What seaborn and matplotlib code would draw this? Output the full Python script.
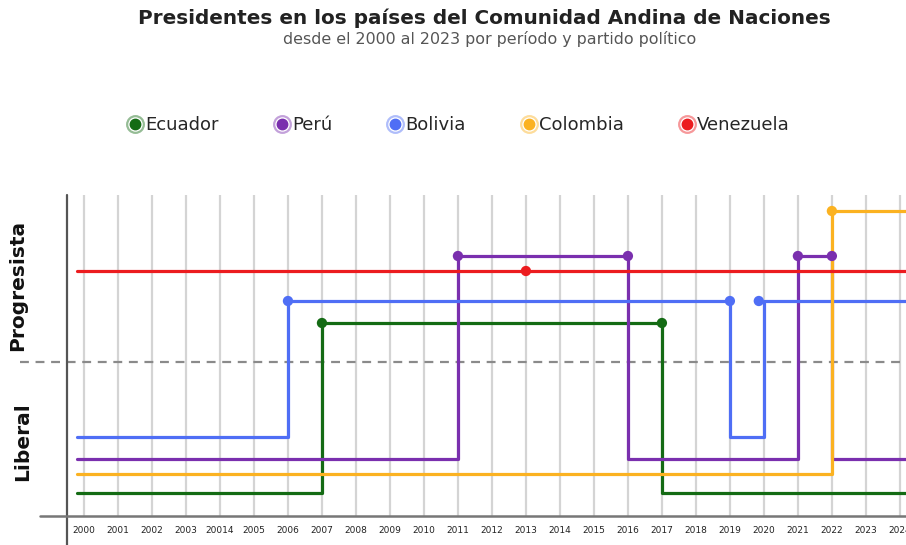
import matplotlib
matplotlib.use("Agg")
import matplotlib.pyplot as plt
from matplotlib.lines import Line2D
from matplotlib.legend_handler import HandlerTuple
import matplotlib.colors as mcolors
import pandas as pd
import seaborn as sns

# --- datos: años de cambio y tendencia ("L" liberal / "P" progresista) ---
countries = ["Ecuador", "Perú", "Bolivia", "Colombia", "Venezuela"]

ecuador_years = [1999.8, 2007, 2017, 2024.5]
ecuador_side = ["L", "P", "L", "L"]
peru_years = [1999.8, 2011, 2016, 2021, 2022, 2024.5]
peru_side = ["L", "P", "L", "P", "L", "L"]
bolivia_years = [1999.8, 2006, 2019, 2020, 2024.5]
bolivia_side = ["L", "P", "L", "P", "P"]
colombia_years = [1999.8, 2022, 2024.5]
colombia_side = ["L", "P", "P"]
venezuela_years = [1999.8, 2024.5]
venezuela_side = ["P", "P"]

# puntos marcados sobre el nivel progresista
ecuador_dots = [2007, 2017]
peru_dots = [2011, 2016, 2021, 2022]
bolivia_dots = [2006, 2019, 2019.85]
colombia_dots = [2022]
venezuela_dots = [2013]

years = list(range(2000, 2025))
year_labels = [str(y) for y in years]
year_labels[4] = "20014"  # tal cual aparece en el original

title = "Presidentes en los países del Comunidad Andina de Naciones"
subtitle = "desde el 2000 al 2023 por período y partido político"

# --- estilo ---
colors = {
    "Ecuador": "#146b14",
    "Perú": "#7a2fae",
    "Bolivia": "#4f6ef5",
    "Colombia": "#fbb221",
    "Venezuela": "#ec1c1f",
}
# desplazamiento vertical de cada país dentro de su bloque
levels = {
    "Ecuador": {"L": 2.3, "P": 19.3},
    "Perú": {"L": 5.7, "P": 26.0},
    "Bolivia": {"L": 7.9, "P": 21.5},
    "Colombia": {"L": 4.2, "P": 30.5},
    "Venezuela": {"L": 0.0, "P": 24.5},
}
divider = 15.4

series = {
    "Ecuador": (ecuador_years, ecuador_side, ecuador_dots),
    "Perú": (peru_years, peru_side, peru_dots),
    "Bolivia": (bolivia_years, bolivia_side, bolivia_dots),
    "Colombia": (colombia_years, colombia_side, colombia_dots),
    "Venezuela": (venezuela_years, venezuela_side, venezuela_dots),
}

rows, dot_rows = [], []
for c, (xs, ss, ds) in series.items():
    for x, s in zip(xs, ss):
        rows.append({"pais": c, "anio": x, "nivel": levels[c][s]})
    for d in ds:
        dot_rows.append({"pais": c, "anio": d, "nivel": levels[c]["P"]})
df = pd.DataFrame(rows)
df_dots = pd.DataFrame(dot_rows)

sns.set_style("white")
plt.rcParams["font.family"] = ["DejaVu Sans"]

fig = plt.figure(figsize=(9.06, 5.45), dpi=100)
ax = fig.add_axes([67 / 906, 1 - 516 / 545, (906 - 67) / 906, (516 - 195) / 545])

sns.lineplot(data=df, x="anio", y="nivel", hue="pais", palette=colors,
             hue_order=countries, drawstyle="steps-post", estimator=None,
             sort=False, linewidth=2.3, legend=False, ax=ax, zorder=2)
sns.scatterplot(data=df_dots, x="anio", y="nivel", hue="pais", palette=colors,
                hue_order=countries, s=55, edgecolor="none", legend=False,
                ax=ax, zorder=3)

ax.set_xlim(1999.5, 2024.18)
ax.set_ylim(0, 32.1)
ax.set_xticks(years)
ax.set_xticklabels(year_labels, fontsize=6.5, color="#222")
ax.set_yticks([])
ax.tick_params(axis="x", length=0, pad=7)
ax.grid(axis="x", color="#d4d4d4", linewidth=1.6)
ax.set_axisbelow(True)
ax.set_xlabel("")
ax.set_ylabel("")
for sp in ax.spines.values():
    sp.set_visible(False)

# ejes dibujados a mano (se salen del área del gráfico)
ax.plot([0, 0], [-0.09, 1.0], transform=ax.transAxes, color="#555",
        linewidth=1.6, clip_on=False)
ax.plot([-0.032, 1.0], [0, 0], transform=ax.transAxes, color="#777",
        linewidth=1.8, clip_on=False)
ax.plot([-0.056, 1.0], [divider, divider], transform=ax.get_yaxis_transform(),
        color="#8a8a8a", linewidth=1.6, linestyle=(0, (4, 3)), clip_on=False,
        zorder=1)

fig.text(18 / 906, 1 - 285 / 545, "Progresista", rotation=90, ha="center",
         va="center", fontsize=14.5, fontweight="bold", color="#111")
fig.text(23 / 906, 1 - 442 / 545, "Liberal", rotation=90, ha="center",
         va="center", fontsize=14.5, fontweight="bold", color="#111")

fig.text(484 / 906, 1 - 18 / 545, title, ha="center", va="center",
         fontsize=14.4, fontweight="bold", color="#222")
fig.text(490 / 906, 1 - 39 / 545, subtitle, ha="center", va="center",
         fontsize=11.4, color="#555")

# leyenda con marcador tipo "radio"
handles = []
for c in countries:
    light = mcolors.to_rgba(colors[c], 0.45)
    ring = Line2D([], [], marker="o", linestyle="", markersize=12,
                  markerfacecolor="white", markeredgecolor=light,
                  markeredgewidth=1.6)
    dot = Line2D([], [], marker="o", linestyle="", markersize=7.5,
                 markerfacecolor=colors[c], markeredgecolor=colors[c])
    handles.append((ring, dot))
fig.legend(handles, countries, handler_map={tuple: HandlerTuple(ndivide=1)},
           loc="center", bbox_to_anchor=(458 / 906, 1 - 125 / 545), ncol=5,
           frameon=False, fontsize=13, columnspacing=3.0, handletextpad=0.05,
           handlelength=1.0)

fig.savefig("out.png", dpi=100)
plt.close(fig)
